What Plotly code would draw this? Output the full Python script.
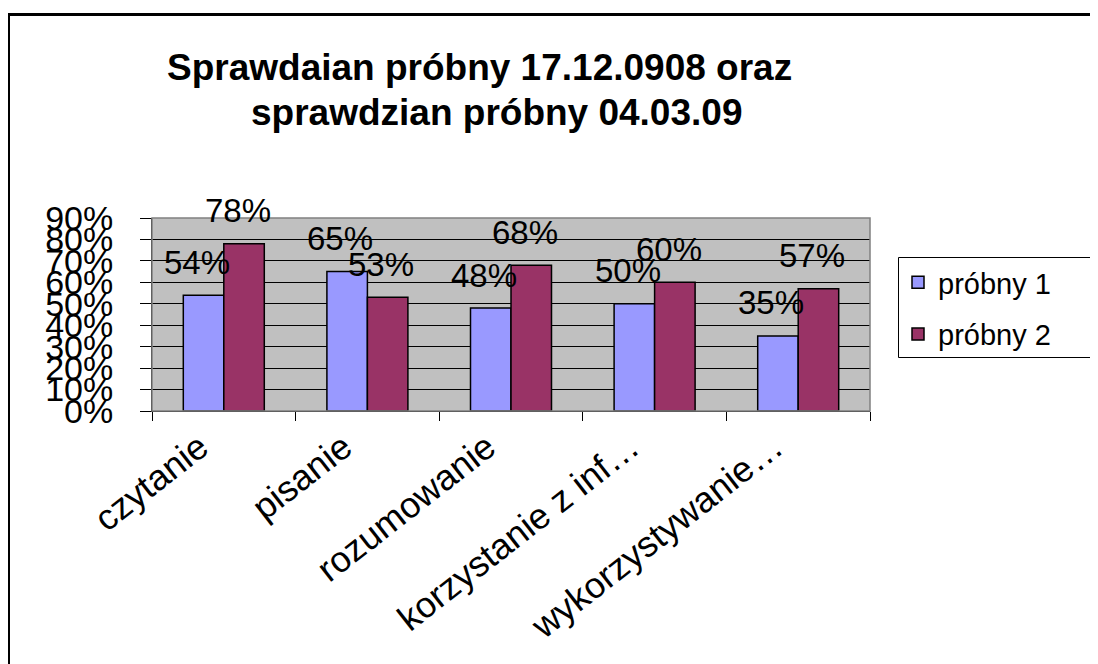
import plotly.graph_objects as go

categories = ["czytanie", "pisanie", "rozumowanie", "korzystanie z inf…", "wykorzystywanie…"]
series1_name = "próbny 1"
series2_name = "próbny 2"
series1 = [0.54, 0.65, 0.48, 0.50, 0.35]
series2 = [0.78, 0.53, 0.68, 0.60, 0.57]
y_ticks = [0, 0.1, 0.2, 0.3, 0.4, 0.5, 0.6, 0.7, 0.8, 0.9]
title_line1 = "Sprawdaian próbny 17.12.0908 oraz"
title_line2 = "sprawdzian próbny 04.03.09"

OFF = 8  # page body margin
W, H = 1098 - OFF, 664 - OFF
L, T = 152 - OFF, 218 - OFF
R = W - (870 - OFF)
B = H - round(410.7 - OFF)
PW, PH = W - L - R, H - T - B


def px_x(x):
    return (x - OFF - L) / PW


def px_y(y):
    return (H - B - (y - OFF)) / PH


FONT = "Liberation Sans, Arial, sans-serif"

fig = go.Figure()
fig.add_trace(go.Bar(
    x=categories, y=series1, name=series1_name, legendgroup="a",
    marker=dict(color="#9999FF", line=dict(color="black", width=1.5)),
))
fig.add_trace(go.Bar(
    x=categories, y=series2, name=series2_name, legendgroup="b",
    marker=dict(color="#993366", line=dict(color="black", width=1.5)),
))

annotations = []
for cat, v in zip(categories, series1):
    annotations.append(dict(x=cat, y=v, xref="x", yref="y", text=f"{round(v*100)}%",
                            showarrow=False, xshift=-27, yshift=33, yanchor="middle",
                            font=dict(family=FONT, size=33, color="black")))
for cat, v in zip(categories, series2):
    annotations.append(dict(x=cat, y=v, xref="x", yref="y", text=f"{round(v*100)}%",
                            showarrow=False, xshift=14, yshift=33, yanchor="middle",
                            font=dict(family=FONT, size=33, color="black")))

annotations.append(dict(x=px_x(479), y=px_y(68), xref="paper", yref="paper", text=f"<b>{title_line1}</b>",
                        showarrow=False, xanchor="center", yanchor="middle",
                        font=dict(family=FONT, size=37, color="black")))
annotations.append(dict(x=px_x(496), y=px_y(112), xref="paper", yref="paper", text=f"<b>{title_line2}</b>",
                        showarrow=False, xanchor="center", yanchor="middle",
                        font=dict(family=FONT, size=37, color="black")))

shapes = [
    dict(type="rect", xref="paper", yref="paper", x0=0, x1=1, y0=0, y1=1,
         line=dict(color="#808080", width=1.5), fillcolor="rgba(0,0,0,0)", layer="above"),
    dict(type="rect", xref="paper", yref="paper", x0=px_x(8.5), y0=px_y(700), x1=px_x(1120), y1=px_y(14.5),
         line=dict(color="black", width=3), fillcolor="rgba(0,0,0,0)", layer="above"),
    # legend frame
    dict(type="rect", xref="paper", yref="paper", x0=px_x(898.5), y0=px_y(357.5), x1=px_x(1096.5), y1=px_y(257.5),
         line=dict(color="black", width=1), fillcolor="white", layer="above"),
]

fig.update_layout(
    width=W, height=H,
    margin=dict(l=L, r=R, t=T, b=B, pad=0),
    paper_bgcolor="white",
    plot_bgcolor="#C0C0C0",
    barmode="group", bargap=0.436, bargroupgap=0,
    showlegend=True,
    legend=dict(x=px_x(898), y=px_y(257), xanchor="left", yanchor="top",
                bgcolor="rgba(0,0,0,0)", borderwidth=0,
                font=dict(family=FONT, size=29, color="black"),
                tracegroupgap=11),
    annotations=annotations,
    shapes=shapes,
    font=dict(family=FONT, color="black"),
)
fig.update_xaxes(
    type="category", tickson="boundaries", ticks="outside", ticklen=9, tickcolor="black",
    showline=True, linecolor="black", linewidth=1, showgrid=False,
    tickangle=-38, tickfont=dict(family=FONT, size=36, color="black"), ticklabelshift=-24,
)
fig.update_yaxes(
    range=[0, 0.9], tickvals=y_ticks, tickformat=".0%", ticks="outside", ticklen=11,
    tickcolor="black", showline=True, linecolor="black", linewidth=1,
    showgrid=True, gridcolor="black", gridwidth=1, zeroline=False,
    tickfont=dict(family=FONT, size=34, color="black"), ticklabelstandoff=20,
)

fig.write_html("out.html")
